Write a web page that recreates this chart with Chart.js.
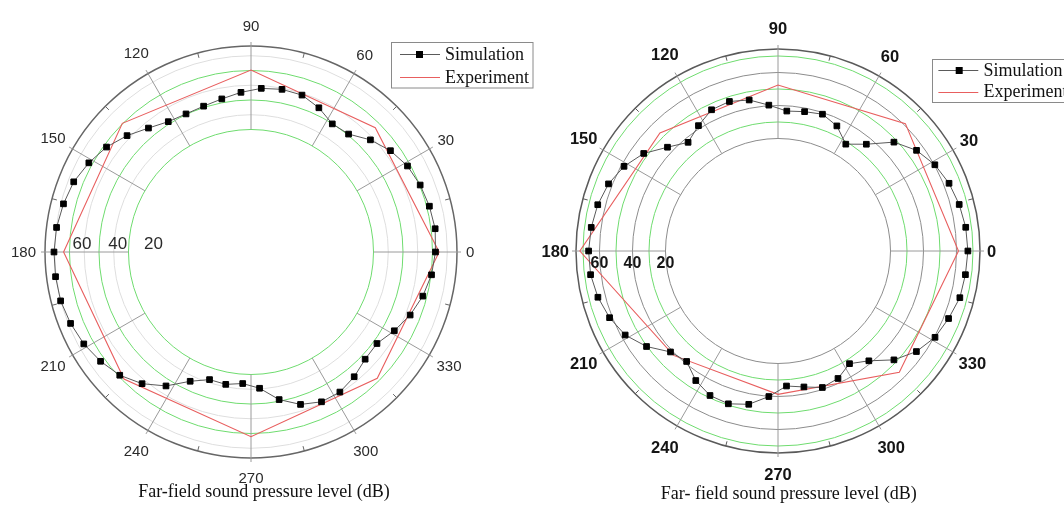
<!DOCTYPE html>
<html><head><meta charset="utf-8">
<script src="https://cdn.jsdelivr.net/npm/chart.js@4.4.1/dist/chart.umd.min.js"></script>
<style>
html,body{margin:0;padding:0;background:#fff;width:1064px;height:507px;overflow:hidden;position:relative;}
#c1{position:absolute;left:0;top:0;}
#c2{position:absolute;left:520px;top:0;}
</style></head><body>
<canvas id="c1" width="545" height="507"></canvas>
<canvas id="c2" width="544" height="507"></canvas>
<script>
// ---------- data ----------
const simAngles = [0,7.2,14.4,21.6,28.8,36,43.2,50.4,57.6,64.8,72,79.2,86.4,93.6,100.8,108,115.2,122.4,129.6,136.8,
  144,151.2,158.4,165.6,172.8,180,187.2,194.4,201.6,208.8,216,223.2,230.4,237.6,244.8,252,259.2,266.4,273.6,280.8,
  288,295.2,302.4,309.6,316.8,324,331.2,338.4,345.6,352.8];
const expAngles = [0,45,90,135,180,225,270,315];
const angleTickLabels = [0,30,60,90,120,150,180,210,240,270,300,330];
const radialTickLabels = [60,40,20];
const seriesNames = ['Simulation','Experiment'];
const captionLeft = 'Far-field sound pressure level (dB)';
const captionRight = 'Far- field sound pressure level (dB)';

const leftSimulation = [62.0,62.8,61.8,60.3,58.0,53.8,48.0,40.7,39.8,45.0,48.8,49.2,48.1,45.4,42.6,40.9,40.4,41.6,46.0,52.2,
  58.0,62.4,66.2,68.2,69.8,70.5,70.5,70.2,68.5,66.3,63.0,59.0,52.8,44.5,33.8,27.9,28.3,26.3,29.5,38.8,
  45.6,49.2,49.4,46.7,43.1,42.5,47.8,53.0,57.2,60.3];
const leftExperiment = [64.5,56.1,60.3,60.3,64.0,58.7,62.2,58.0];

const rightSimulation = [66.9,66.5,65.2,63.3,60.3,55.6,48.2,35.8,28.5,35.6,39.0,37.8,36.8,40.4,45.0,47.1,46.4,41.8,37.3,43.7,
  52.4,58.3,62.3,64.6,65.9,66.6,66.3,64.5,61.6,57.5,50.3,41.2,38.7,44.8,48.6,49.2,46.4,40.2,33.8,35.7,
  38.8,37.2,32.7,38.2,48.2,55.5,60.4,63.0,65.6,66.3];
const rightExperiment = [61.2,61.0,52.4,53.0,71.9,41.3,38.7,55.8];

// ---------- angular grid for the radar scale (0.6 deg steps, counter-clockwise from 0 at the right) ----------
const STEP = 0.6, N = 600;
const angleIndex = a => Math.round(((((360 - a) % 360) + 360) % 360) / STEP) % N;
const gridLabels = Array.from({length: N}, (_, i) => String(+(((360 - i * STEP) % 360).toFixed(1))));
function toGrid(angles, values) {
  const arr = new Array(N).fill(null);
  angles.forEach((a, k) => { arr[angleIndex(a)] = values[k]; });
  return arr;
}

function decorPlugin(cfg) {
  return {
    id: 'decor',
    beforeDatasetsDraw(chart) {
      const s = chart.scales.r, ctx = chart.ctx, R = s.drawingArea;
      const r0 = s.getDistanceFromCenterForValue(cfg.innerValue);
      ctx.save();
      ctx.lineWidth = 1;
      ctx.strokeStyle = cfg.spokeColor;
      angleTickLabels.forEach(a => {
        const i = angleIndex(a);
        const p1 = s.getPointPosition(i, r0), p2 = s.getPointPosition(i, R + 4);
        ctx.beginPath(); ctx.moveTo(p1.x, p1.y); ctx.lineTo(p2.x, p2.y); ctx.stroke();
      });
      ctx.strokeStyle = cfg.outerColor;
      angleTickLabels.forEach(a => {
        const i = angleIndex(a + 15);
        const p1 = s.getPointPosition(i, R - 5), p2 = s.getPointPosition(i, R);
        ctx.beginPath(); ctx.moveTo(p1.x, p1.y); ctx.lineTo(p2.x, p2.y); ctx.stroke();
      });
      ctx.restore();
    },
    afterDraw(chart) {
      const s = chart.scales.r, ctx = chart.ctx, R = s.drawingArea;
      ctx.save();
      // angle labels
      ctx.font = cfg.angleFont; ctx.fillStyle = cfg.textColor;
      ctx.textAlign = 'center'; ctx.textBaseline = 'middle';
      angleTickLabels.forEach(a => {
        const i = angleIndex(a);
        const u = s.getPointPosition(i, 1);
        const ux = u.x - s.xCenter, uy = u.y - s.yCenter;
        const txt = String(a);
        const w = ctx.measureText(txt).width;
        const d = R + cfg.labelGap + Math.abs(ux) * w / 2 + uy * uy * cfg.labelHalfH;
        const p = s.getPointPosition(i, d);
        ctx.fillText(txt, p.x, p.y + 1);
      });
      // radial labels
      ctx.font = cfg.radialFont;
      radialTickLabels.forEach(v => {
        const d = s.getDistanceFromCenterForValue(v) - cfg.radialShift(v);
        ctx.fillText(String(v), s.xCenter - d, s.yCenter + cfg.radialDy);
      });
      // legend
      const L = cfg.legend;
      ctx.strokeStyle = '#8a8a8a'; ctx.lineWidth = 1;
      ctx.strokeRect(Math.round(L.x) + 0.5, Math.round(L.y) + 0.5, L.w, L.h);
      ctx.font = '18px "Liberation Serif", serif'; ctx.textAlign = 'left'; ctx.fillStyle = '#111';
      chart.data.datasets.forEach((ds, k) => {
        const y = L.rows[k];
        ctx.strokeStyle = ds.legendLine; ctx.lineWidth = 1;
        ctx.beginPath(); ctx.moveTo(L.lineX0, Math.round(y) + 0.5); ctx.lineTo(L.lineX1, Math.round(y) + 0.5); ctx.stroke();
        if (ds.pointRadius > 0) {
          ctx.fillStyle = '#000';
          ctx.fillRect(L.markerX - 3.5, Math.round(y) - 3, 7, 7);
        }
        ctx.fillStyle = '#111';
        ctx.fillText(ds.label, L.textX, y + 1);
      });
      // caption
      ctx.font = '18px "Liberation Serif", serif'; ctx.textAlign = 'center'; ctx.fillStyle = '#111';
      ctx.fillText(cfg.caption, cfg.captionX, cfg.captionY);
      ctx.restore();
    }
  };
}

function makeChart(id, sim, exp, scale, style) {
  const ticks = [scale.min, 20, 30, 40, 50, 60, 70, scale.max];
  return new Chart(document.getElementById(id), {
    type: 'radar',
    data: {
      labels: gridLabels,
      datasets: [
        {label: seriesNames[0], data: toGrid(simAngles, sim), borderColor: style.simLine, legendLine: style.simLine,
         borderWidth: 1, pointStyle: 'rect', pointRadius: 4, pointBackgroundColor: '#000', pointBorderColor: '#000',
         pointBorderWidth: 1, fill: false, spanGaps: true},
        {label: seriesNames[1], data: toGrid(expAngles, exp), borderColor: style.expLine, legendLine: style.expLine,
         borderWidth: 1.1, pointRadius: 0, fill: false, spanGaps: true}
      ]
    },
    options: {
      responsive: false, animation: false, events: [],
      layout: {padding: style.padding},
      elements: {line: {tension: 0}},
      plugins: {legend: {display: false}, tooltip: {enabled: false}, title: {display: false}},
      scales: {
        r: {
          min: scale.min, max: scale.max, startAngle: 90,
          ticks: {display: false, stepSize: 10},
          pointLabels: {display: false},
          angleLines: {display: false},
          grid: {
            circular: true,
            color: c => style.ring(c.tick.value).color,
            lineWidth: c => style.ring(c.tick.value).width
          },
          afterBuildTicks: sc => { sc.ticks = ticks.map(v => ({value: v})); }
        }
      }
    },
    plugins: [decorPlugin(style.decor)]
  });
}

// left chart
makeChart('c1', leftSimulation, leftExperiment, {min: -63.05, max: 76.6}, {
  simLine: '#5a5a5a', expLine: '#e85e5e',
  padding: {left: 45, right: 87, top: 46, bottom: 49},
  ring: v => {
    if (v < 20) return {color: 'rgba(0,0,0,0)', width: 0};
    if (v > 75) return {color: '#666666', width: 1.5};
    if (v % 20 === 0) return {color: '#6fdc6f', width: 1};
    return {color: '#dedede', width: 1};
  },
  decor: {
    innerValue: 20, spokeColor: '#9a9a9a', outerColor: '#666666',
    angleFont: '15px "Liberation Sans", Arial, sans-serif', textColor: '#2a2a2a', labelGap: 9, labelHalfH: 11,
    radialFont: '17px "Liberation Sans", Arial, sans-serif', radialShift: v => 12.5 + (60 - v) * 0.31, radialDy: -7.7,
    legend: {x: 391, y: 41.5, w: 141.5, h: 45.5, rows: [54, 77], lineX0: 400, lineX1: 440, markerX: 419.5, textX: 445},
    caption: captionLeft, captionX: 264, captionY: 492
  }
});

// right chart
makeChart('c2', rightSimulation, rightExperiment, {min: -48.18, max: 74.24}, {
  simLine: '#5a5a5a', expLine: '#e85e5e',
  padding: {left: 56, right: 83, top: 49, bottom: 53},
  ring: v => {
    if (v < 20) return {color: 'rgba(0,0,0,0)', width: 0};
    if (v > 72) return {color: '#5a5a5a', width: 1.5};
    if (v % 20 === 0) return {color: '#8c8c8c', width: 1};
    return {color: '#6fdc6f', width: 1};
  },
  decor: {
    innerValue: 20, spokeColor: '#9a9a9a', outerColor: '#5a5a5a',
    angleFont: 'bold 16.5px "Liberation Sans", Arial, sans-serif', textColor: '#151515', labelGap: 7, labelHalfH: 14,
    radialFont: 'bold 16px "Liberation Sans", Arial, sans-serif', radialShift: v => 0, radialDy: 13,
    legend: {x: 411.5, y: 59, w: 170, h: 43, rows: [70, 91.5], lineX0: 418.4, lineX1: 458.3, markerX: 439.2, textX: 463.5},
    caption: captionRight, captionX: 268.8, captionY: 494
  }
});
</script>
</body></html>
